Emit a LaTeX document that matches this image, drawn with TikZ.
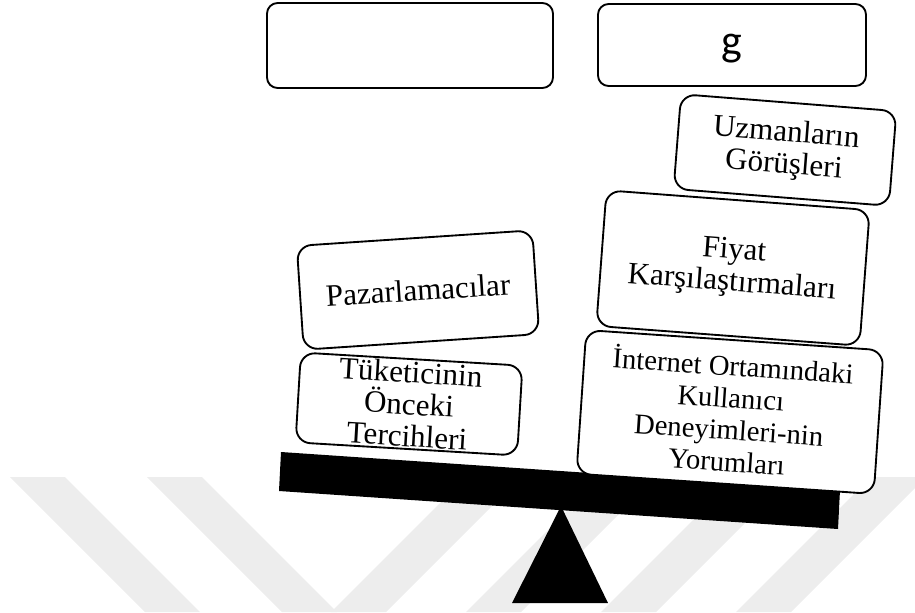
\documentclass[tikz,border=0pt]{standalone}
\usepackage{fontspec}
\setmainfont{Liberation Serif}
\newfontfamily\labelsans{Carlito}
\begin{document}
\begin{tikzpicture}[x=0.75pt,y=-0.75pt,
  topbox/.style={draw, line width=1.4pt, rounded corners=8pt, fill=white,
                 inner sep=0pt, outer sep=0pt},
  weightbox/.style={draw, line width=1.4pt, rounded corners=11pt, fill=white,
                    inner sep=0pt, align=center,
                    font=\fontsize{23.3}{24}\selectfont},
  stripe/.style={fill=black!7}]
\useasboundingbox (0,0) rectangle (915,612);

% faint chevron stripes in the background
\foreach \c in {-467,-330}
  \fill[stripe] ({\c+477},477) -- ({\c+532},477) -- ({\c+667},612) -- ({\c+612},612) -- cycle;
\foreach \d in {943,1078,1213,1348}
  \fill[stripe] ({\d-477},477) -- ({\d-422},477) -- ({\d-557},612) -- ({\d-612},612) -- cycle;

% fulcrum and tilted beam
\fill (512,603) -- (608,603) -- (561,506) -- cycle;
\fill (281,452) -- (840,490) -- (838,529) -- (279,491) -- cycle;

% pans above the scale
\node[topbox, minimum width=214.5pt, minimum height=63.75pt] (leftpan) at (410,45.5) {};
\node[topbox, minimum width=201pt, minimum height=61.5pt,
      font=\labelsans\fontsize{33}{36}\selectfont, text depth=0pt] (rightpan) at (732,45) {g};

% weights on the left side
\node[weightbox, minimum width=166.5pt, minimum height=67.5pt, rotate=-3.4]
  (prev) at (409,404) {Tüketicinin\\Önceki\\Tercihleri};
\node[weightbox, minimum width=177pt, minimum height=78pt, rotate=3.8]
  (mkt) at (418,290) {Pazarlamacılar};

% weights on the right side
\node[weightbox, minimum width=223.5pt, minimum height=108pt, rotate=-3.9,
      font=\fontsize{21.5}{24}\selectfont]
  (web) at (730,412) {İnternet Ortamındaki\\Kullanıcı\\Deneyimleri-nin\\Yorumları};
\node[weightbox, minimum width=198pt, minimum height=102pt, rotate=-4.3]
  (price) at (733,268) {Fiyat\\Karşılaştırmaları};
\node[weightbox, minimum width=162pt, minimum height=71.25pt, rotate=-4.5]
  (expert) at (785,150) {Uzmanların\\Görüşleri};
\end{tikzpicture}
\end{document}
